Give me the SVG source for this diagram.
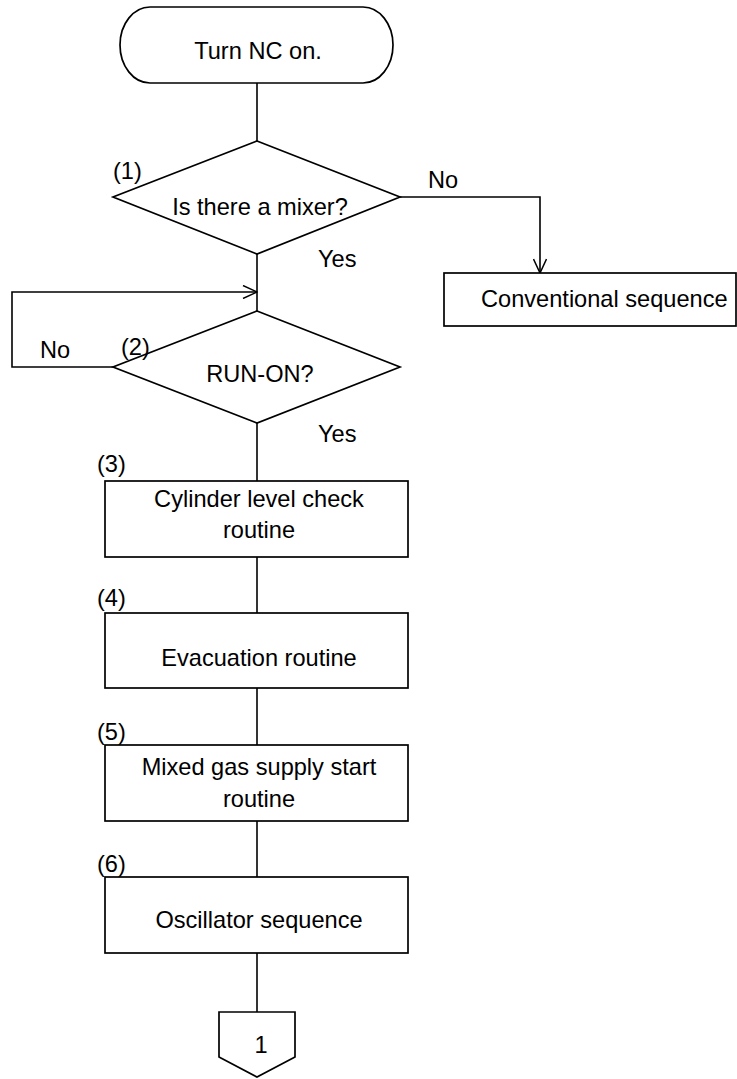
<svg xmlns="http://www.w3.org/2000/svg" width="737" height="1079" viewBox="0 0 737 1079">
  <style>
    .shape { fill: #ffffff; stroke: #000000; stroke-width: 1.7; }
    .line { fill: none; stroke: #000000; stroke-width: 1.6; }
    text { font-family: "Liberation Sans", Arial, sans-serif; font-size: 23.6px; fill: #000000; }
    .c { text-anchor: middle; }
  </style>
  <defs>
    <marker id="open-arrow" viewBox="0 0 16 14" refX="15" refY="7" markerWidth="16" markerHeight="14" markerUnits="userSpaceOnUse" orient="auto">
      <path d="M1,0.5 L15,7 L1,13.5" fill="none" stroke="#000000" stroke-width="1.5"/>
    </marker>
  </defs>

  <!-- connectors -->
  <g id="connectors">
    <line class="line" x1="257" y1="83" x2="257" y2="141"/>
    <line class="line" x1="257" y1="254" x2="257" y2="311"/>
    <polyline class="line" points="400,197 540,197 540,273" marker-end="url(#open-arrow)"/>
    <polyline class="line" points="113,367 12,367 12,292 257,292" marker-end="url(#open-arrow)"/>
    <line class="line" x1="257" y1="423" x2="257" y2="481"/>
    <line class="line" x1="257" y1="557" x2="257" y2="613"/>
    <line class="line" x1="257" y1="688" x2="257" y2="745"/>
    <line class="line" x1="257" y1="821" x2="257" y2="877"/>
    <line class="line" x1="257" y1="953" x2="257" y2="1012"/>
    <text x="428" y="188">No</text>
    <text x="318" y="267">Yes</text>
    <text x="40" y="358">No</text>
    <text x="318" y="442">Yes</text>
  </g>

  <g id="start">
    <rect class="shape" x="120" y="7" width="273" height="76" rx="30" ry="38"/>
    <text class="c" x="258" y="59">Turn NC on.</text>
  </g>

  <g id="mixer-check">
    <polygon class="shape" points="257,141 400,197 257,254 113,197"/>
    <text class="c" x="260" y="215">Is there a mixer?</text>
    <text x="113" y="179">(1)</text>
  </g>

  <g id="conventional">
    <rect class="shape" x="444" y="273" width="292" height="53"/>
    <text x="481" y="307">Conventional sequence</text>
  </g>

  <g id="run-on">
    <polygon class="shape" points="257,311 400,367 257,423 113,367"/>
    <text class="c" x="260" y="382">RUN-ON?</text>
    <text x="121" y="355">(2)</text>
  </g>

  <g id="cylinder-check">
    <rect class="shape" x="105" y="481" width="303" height="76"/>
    <text class="c" x="259" y="507">Cylinder level check</text>
    <text class="c" x="259" y="538">routine</text>
    <text x="97" y="472">(3)</text>
  </g>

  <g id="evacuation">
    <rect class="shape" x="105" y="613" width="303" height="75"/>
    <text class="c" x="259" y="666">Evacuation routine</text>
    <text x="97" y="606">(4)</text>
  </g>

  <g id="gas-supply">
    <rect class="shape" x="105" y="745" width="303" height="76"/>
    <text class="c" x="259" y="775">Mixed gas supply start</text>
    <text class="c" x="259" y="807">routine</text>
    <text x="97" y="740">(5)</text>
  </g>

  <g id="oscillator">
    <rect class="shape" x="105" y="877" width="303" height="76"/>
    <text class="c" x="259" y="928">Oscillator sequence</text>
    <text x="97" y="872">(6)</text>
  </g>

  <g id="page-connector">
    <polygon class="shape" points="219,1012 295,1012 295,1057 257,1077 219,1057"/>
    <text class="c" x="261" y="1053">1</text>
  </g>
</svg>
